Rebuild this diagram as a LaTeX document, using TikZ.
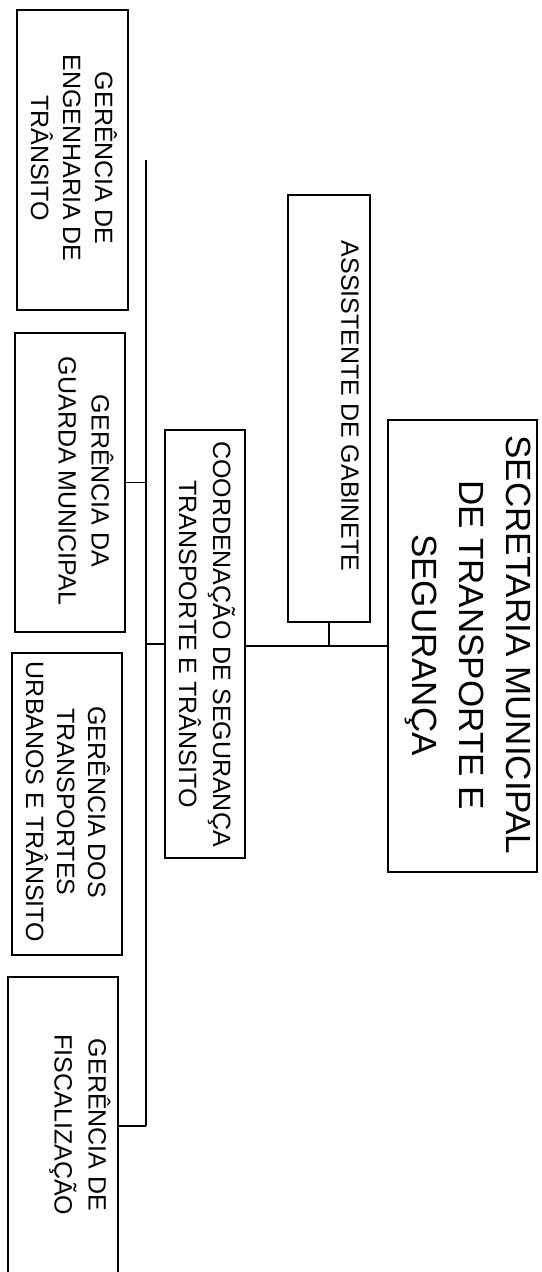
\documentclass[tikz,border=0pt]{standalone}
\usepackage{fontspec}
\setmainfont{Liberation Sans}
\begin{document}
\begin{tikzpicture}[x=1pt,y=-1pt,
  box/.style={draw, line width=1.5pt, inner sep=0pt},
  lbl/.style={rotate=-90, align=center, inner sep=0pt, font=\fontsize{25}{33}\selectfont},
  biglbl/.style={rotate=-90, align=center, inner sep=0pt, font=\fontsize{35}{47}\selectfont},
  conn/.style={line width=1.5pt}]
\useasboundingbox (0,0) rectangle (541,1272);
% boxes
\node[box, minimum width=149pt, minimum height=452pt] (sec) at (462.5,646) {};
\node[box, minimum width=82pt, minimum height=427pt] (asst) at (329,408.5) {};
\node[box, minimum width=80pt, minimum height=428pt] (coord) at (205,644) {};
\node[box, minimum width=111pt, minimum height=300pt] (eng) at (72.5,160) {};
\node[box, minimum width=110pt, minimum height=299pt] (guarda) at (70,482.5) {};
\node[box, minimum width=110pt, minimum height=302pt] (transp) at (67,804) {};
\node[box, minimum width=110pt, minimum height=298pt] (fisc) at (63,1126) {};
% texts
\node[biglbl] (sect) at (468,645) {SECRETARIA MUNICIPAL\\DE TRANSPORTE E\\SEGURANÇA};
\node[lbl] (asstt) at (350,406) {ASSISTENTE DE GABINETE};
\node[lbl, font=\fontsize{25}{34}\selectfont] (coordt) at (207,644) {COORDENAÇÃO DE SEGURANÇA\\TRANSPORTE E TRÂNSITO};
\node[lbl, font=\fontsize{25}{32}\selectfont] (engt) at (74,158) {GERÊNCIA DE\\ENGENHARIA DE\\TRÂNSITO};
\node[lbl] (guardat) at (86,481) {GERÊNCIA DA\\GUARDA MUNICIPAL};
\node[lbl, font=\fontsize{25}{31}\selectfont] (transpt) at (68,802) {GERÊNCIA DOS\\TRANSPORTES\\URBANOS E TRÂNSITO};
\node[lbl, font=\fontsize{25}{34}\selectfont] (fisct) at (80,1125) {GERÊNCIA DE\\FISCALIZAÇÃO};
% connectors
\coordinate (bustop) at (146,160);
\coordinate (busbot) at (146,1126);
\draw[conn] (sec.west) -- (sec.west -| coord.east);
\draw[conn] (asst.south) -- (asst.south |- sec.west);
\draw[conn] (coord.west) -- (coord.west -| bustop);
\draw[conn] (bustop) -- (busbot);
\draw[conn] (guarda.east) -- (guarda.east -| bustop);
\draw[conn] (fisc.east) -- (fisc.east -| bustop);
\end{tikzpicture}
\end{document}
